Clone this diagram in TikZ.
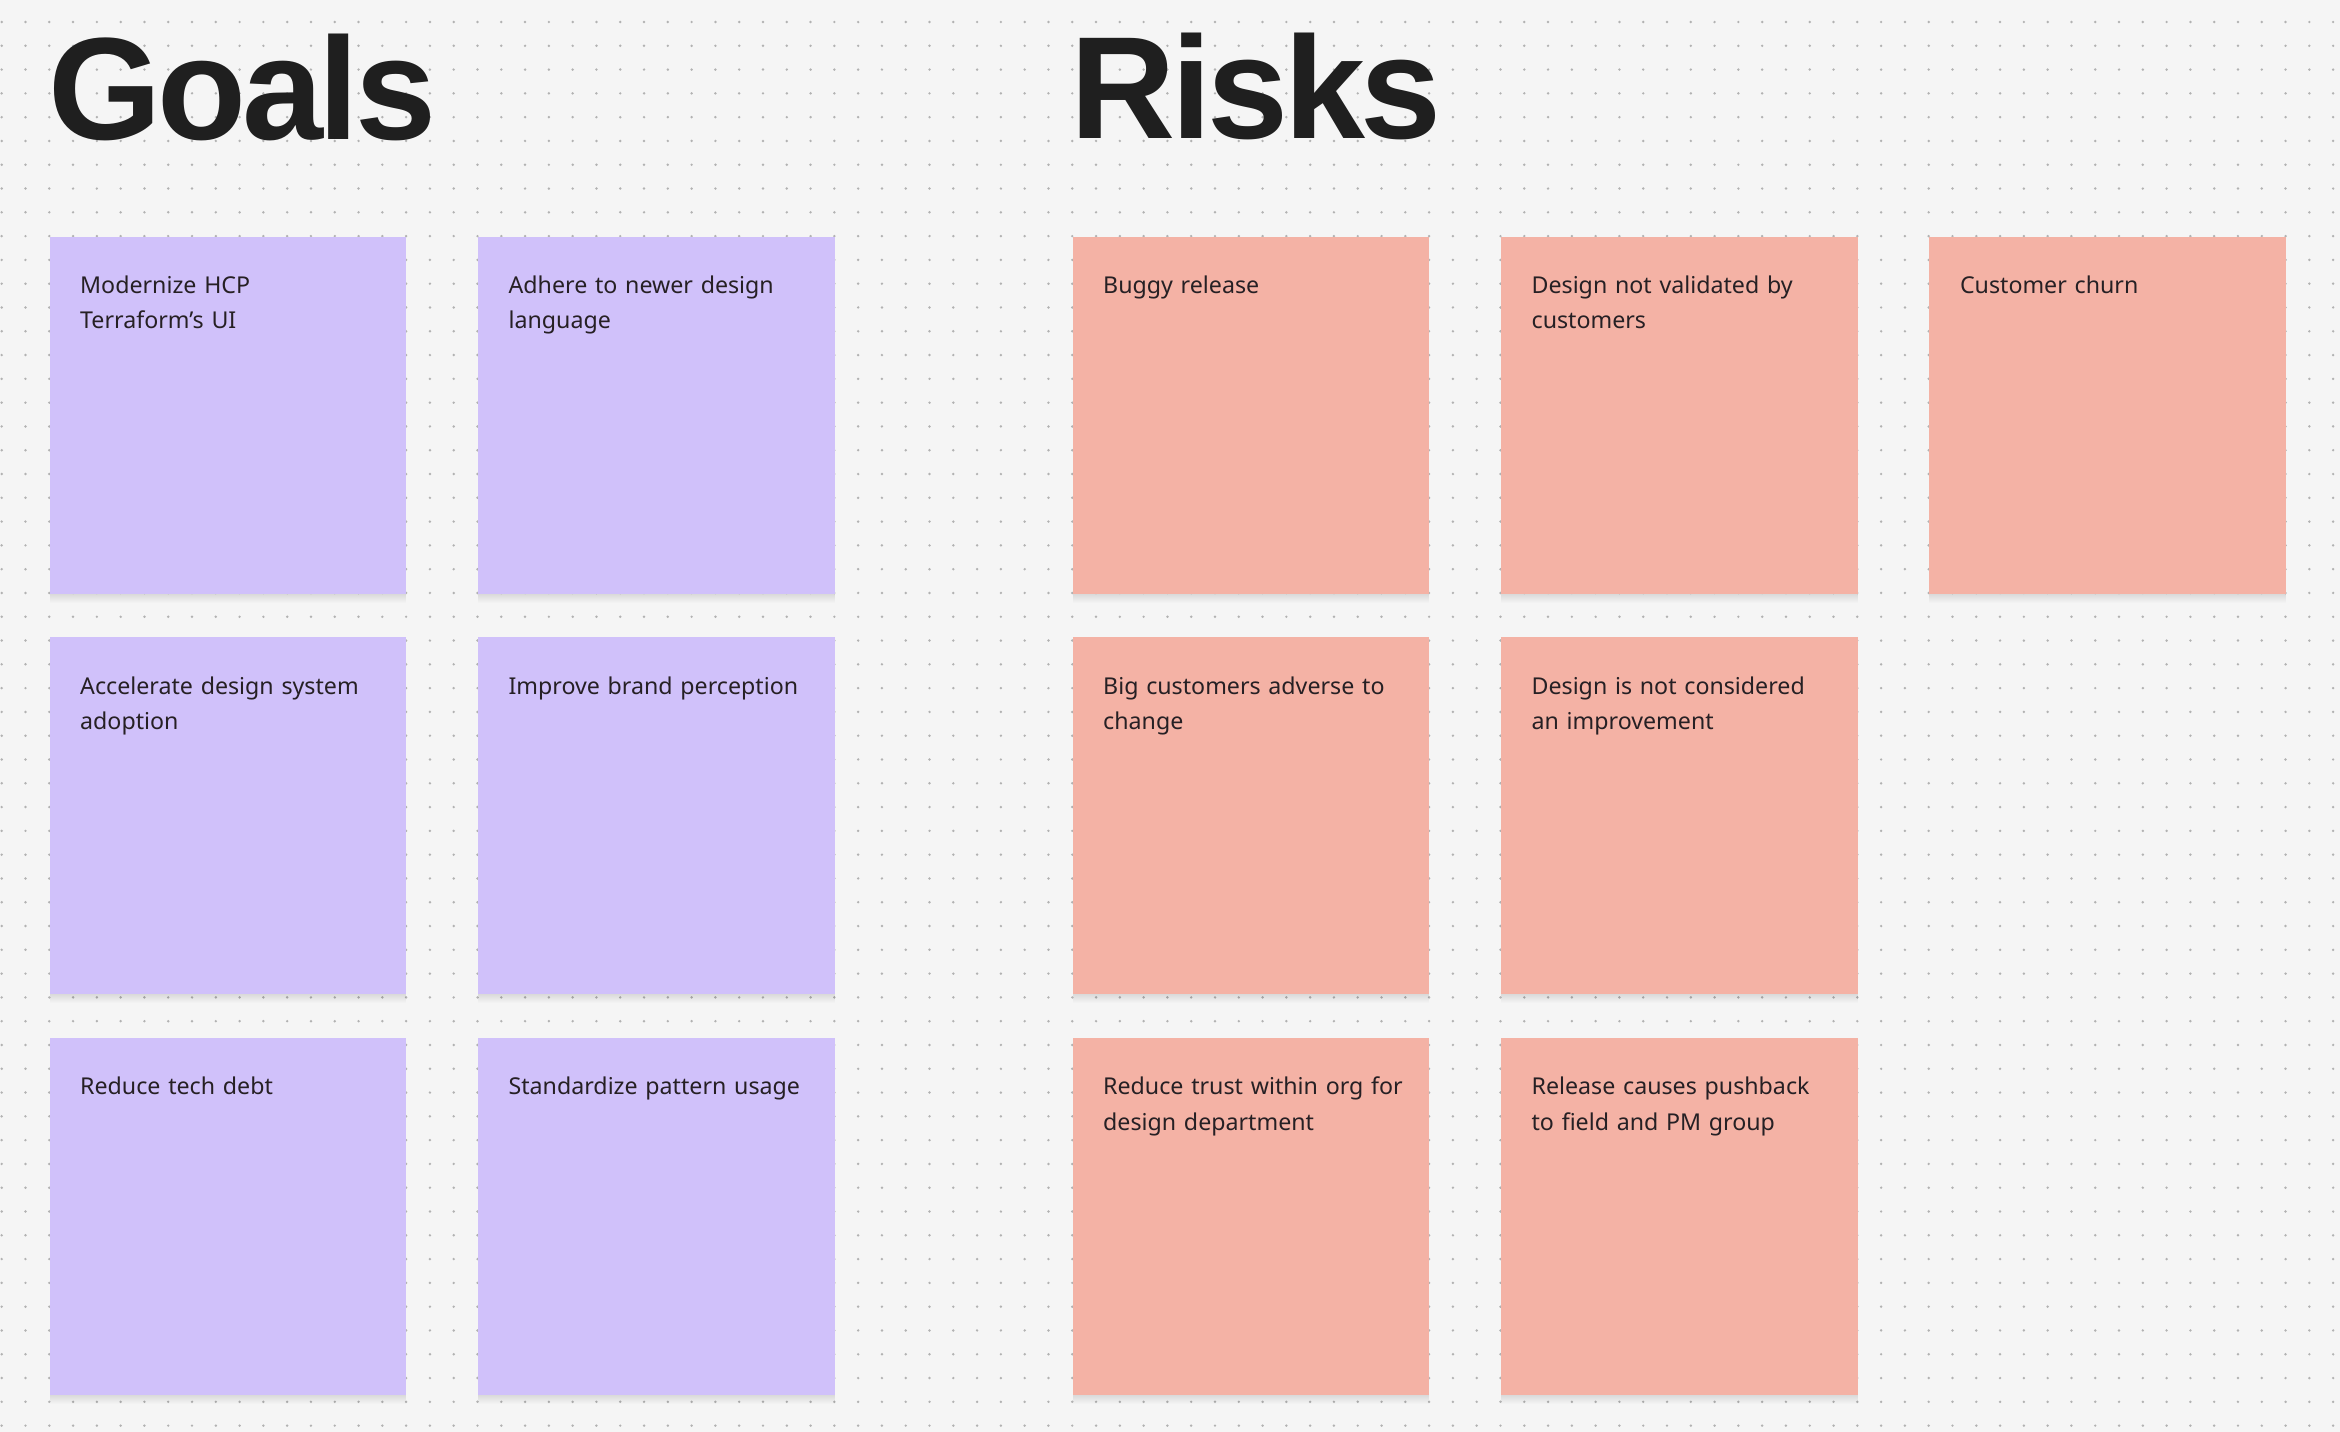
\documentclass[tikz,border=0pt]{standalone}
\usepackage{fontspec}
\setmainfont{Noto Sans}
\newfontfamily\headingfont[LetterSpace=-3]{Liberation Sans}
\usetikzlibrary{positioning}
\definecolor{boardbg}{RGB}{245,245,245}
\definecolor{griddot}{RGB}{178,178,178}
\definecolor{goalfill}{RGB}{208,193,250}
\definecolor{riskfill}{RGB}{244,178,165}
\definecolor{inkdark}{RGB}{31,31,31}
\definecolor{noteink}{RGB}{38,32,36}
\tikzset{%
  softdrop/.style={preaction={fill=black, fill opacity=0.011, transform canvas={yshift=-#1pt}}},
  sticky/.style={rectangle, fill=#1, inner sep=0pt, minimum width=356.9pt, minimum height=356.9pt,
    softdrop=1, softdrop=2, softdrop=3, softdrop=4, softdrop=5, softdrop=6, softdrop=7, softdrop=8, softdrop=9},
  goalnote/.style={sticky=goalfill},
  risknote/.style={sticky=riskfill},
  notetext/.style={anchor=base west, inner sep=0pt, text width=320pt, align=left, text=noteink,
    font=\fontsize{23.2}{35.5}\selectfont},
  heading/.style={anchor=base west, inner sep=0pt, text=inkdark, font=\headingfont\fontsize{145.6}{146}\selectfont\bfseries},
}

\begin{document}
\begin{tikzpicture}[x=1pt, y=-1pt, node distance=43.3pt and 71.1pt]

  % board with dot grid
  \useasboundingbox (0,0) rectangle (2340,1432);
  \fill[boardbg] (0,0) rectangle (2340,1432);
  \foreach \j in {0,...,59}
    \draw[griddot, line width=2.7pt, line cap=round, dash pattern=on 0pt off 23.79pt]
      (1.7,22+\j*23.79) -- (2340,22+\j*23.79);

  % headings
  \node[heading] (goals) at (48.5,139.3) {Goals};
  \node[heading] (risks) at (1070.5,138.5) {Risks};

  % goal notes, first column
  \node[goalnote, anchor=north west] (modernize) at (49.3,236.4) {};
  \node[goalnote, below=of modernize] (accelerate) {};
  \node[goalnote, below=of accelerate] (techdebt) {};

  % goal notes, second column
  \node[goalnote, right=of modernize] (adhere) {};
  \node[goalnote, below=of adhere] (brand) {};
  \node[goalnote, below=of brand] (pattern) {};

  % risk notes, placed in three columns
  \node[risknote, anchor=north west] (buggy) at (1072.3,236.4) {};
  \node[risknote, below=of buggy] (bigcust) {};
  \node[risknote, below=of bigcust] (trust) {};
  \node[risknote, right=of buggy] (validated) {};
  \node[risknote, below=of validated] (improvement) {};
  \node[risknote, below=of improvement] (pushback) {};
  \node[risknote, right=of validated] (churn) {};

  % note texts, top left of every note
  \node[notetext] (modernize-txt) at ([shift={(30.7pt,-57pt)}]modernize.north west) {Modernize HCP\\Terraform’s UI};
  \node[notetext] (accelerate-txt) at ([shift={(30.7pt,-57pt)}]accelerate.north west) {Accelerate design system\\adoption};
  \node[notetext] (techdebt-txt) at ([shift={(30.7pt,-57pt)}]techdebt.north west) {Reduce tech debt};
  \node[notetext] (adhere-txt) at ([shift={(30.7pt,-57pt)}]adhere.north west) {Adhere to newer design\\language};
  \node[notetext] (brand-txt) at ([shift={(30.7pt,-57pt)}]brand.north west) {Improve brand perception};
  \node[notetext] (pattern-txt) at ([shift={(30.7pt,-57pt)}]pattern.north west) {Standardize pattern usage};
  \node[notetext] (buggy-txt) at ([shift={(30.7pt,-57pt)}]buggy.north west) {Buggy release};
  \node[notetext] (bigcust-txt) at ([shift={(30.7pt,-57pt)}]bigcust.north west) {Big customers adverse to\\change};
  \node[notetext] (trust-txt) at ([shift={(30.7pt,-57pt)}]trust.north west) {Reduce trust within org for\\design department};
  \node[notetext] (validated-txt) at ([shift={(30.7pt,-57pt)}]validated.north west) {Design not validated by\\customers};
  \node[notetext] (improvement-txt) at ([shift={(30.7pt,-57pt)}]improvement.north west) {Design is not considered\\an improvement};
  \node[notetext] (pushback-txt) at ([shift={(30.7pt,-57pt)}]pushback.north west) {Release causes pushback\\to field and PM group};
  \node[notetext] (churn-txt) at ([shift={(30.7pt,-57pt)}]churn.north west) {Customer churn};

\end{tikzpicture}
\end{document}
